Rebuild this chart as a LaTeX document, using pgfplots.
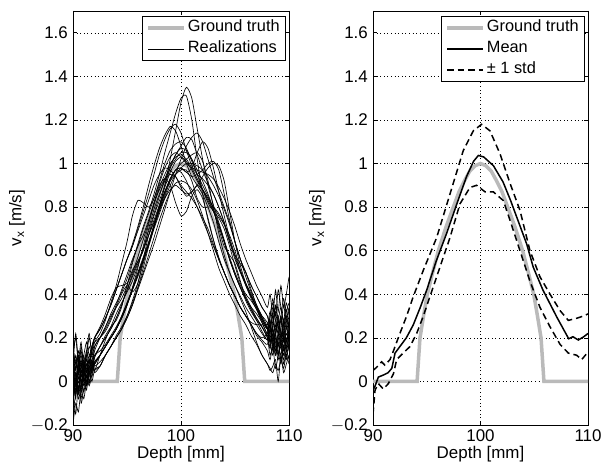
\documentclass[border=0pt]{standalone}
\usepackage{fontspec}
\setmainfont{Liberation Sans}
\usepackage{pgfplots}
\pgfplotsset{compat=1.18}
\definecolor{gt}{RGB}{186,186,186}
\newcommand{\fs}{\fontsize{17}{19}\selectfont}
\newcommand{\fl}{\fontsize{16.4}{18}\selectfont}
\pgfplotsset{
  myax/.style={
    scale only axis, height=414bp,
    xmin=90, xmax=110, ymin=-0.2, ymax=1.7,
    xtick={90,100,110}, ytick={-0.2,0,0.2,0.4,0.6,0.8,1,1.2,1.4,1.6},
    yticklabels={$-$0.2,0,0.2,0.4,0.6,0.8,1,1.2,1.4,1.6},
    /pgf/number format/assume math mode=true,
    tick label style={font=\fs},
    label style={font=\fs},
    axis line style={line width=0.8bp},
    tick style={black, line width=0.6bp},
    major tick length=4bp,
    tick align=inside,
    grid=major,
    major grid style={black, line width=0.5bp, dash pattern=on 0.6bp off 3bp},
    xticklabel style={anchor=base, yshift=-17bp},
    yticklabel style={anchor=east, inner sep=0pt, xshift=-5bp},
    xlabel={Depth [mm]},
    xlabel style={at={(axis description cs:0.5,0)}, anchor=base, yshift=-34bp},
    ylabel={v\textsubscript{x} [m/s]},
    legend cell align=left,
    legend image code/.code={\draw[##1] (0bp,0bp) -- (36bp,0bp);},
    legend style={at={(rel axis cs:1,1)}, anchor=north east, xshift=-3bp, yshift=-5bp,
      draw=black, line width=0.7bp, font=\fl, inner xsep=4bp, inner ysep=1bp,
      row sep=0bp, nodes={inner xsep=2bp, inner ysep=3bp, text height=11.5bp, text depth=3.5bp}},
  },
  rl/.style={black, line width=0.65bp, forget plot, smooth, tension=0.4},
}
\begin{document}
\begin{tikzpicture}[x=1bp,y=1bp]
\useasboundingbox (0,0) rectangle (602,464);
% ---------------- left panel ----------------
\begin{axis}[myax, at={(73bp,39bp)}, anchor=south west, width=216bp,
  ylabel style={at={(axis description cs:-0.259,0.5)}, anchor=center}]
\addplot[gt, line width=3.5bp] coordinates {(90,0)(94.1,0)(94.37,0.2)(94.7,0.3)(95.05,0.4)(95.5,0.49)(96.08,0.6)(96.8,0.71)(97.47,0.8)(98,0.87)(98.5,0.92)(99,0.965)(99.5,0.99)(100,1)(100.5,0.99)(101,0.965)(101.5,0.92)(102,0.87)(102.53,0.8)(103.2,0.71)(103.92,0.6)(104.5,0.49)(104.95,0.4)(105.3,0.3)(105.63,0.2)(105.9,0)(110,0)};
\addlegendentry{Ground truth}
\addplot[black, line width=0.65bp, smooth, tension=0.4] coordinates {(90,0.05)(90.25,-0.08)(90.5,0.10)(90.75,0.02)(91,0.08)(91.25,-0.02)(91.5,0.06)(91.75,0.12)(92,0.08)(92.5,.12)(93,.16)(93.5,.20)(94,.24)(94.5,.29)(95,.35)(95.5,.42)(96,.49)(96.5,.56)(97,.63)(97.5,.71)(98,.80)(98.5,.90)(99,1.02)(99.5,1.15)(100,1.28)(100.5,1.35)(101,1.30)(101.5,1.16)(102,1.02)(102.5,.90)(103,.81)(103.5,.73)(104,.65)(104.5,.57)(105,.50)(105.5,.44)(106,.39)(106.5,.34)(107,.29)(107.5,.25)(108,.20)(108.25,.15)(108.5,.22)(108.75,.12)(109,.20)(109.25,.28)(109.5,.18)(109.75,.25)(110,.20)};
\addlegendentry{Realizations}
\addplot[rl] coordinates {(90,-0.12)(90.25,0.02)(90.5,-0.05)(90.75,0.08)(91,0.0)(91.25,0.05)(91.5,0.10)(91.75,0.06)(92,0.16)(92.5,.20)(93,.25)(93.5,.31)(94,.36)(94.5,.41)(95,.47)(95.5,.55)(96,.63)(96.5,.71)(97,.78)(97.5,.86)(98,.95)(98.5,1.05)(99,1.14)(99.5,1.23)(100,1.30)(100.5,1.31)(101,1.20)(101.5,1.02)(102,.86)(102.5,.74)(103,.65)(103.5,.57)(104,.50)(104.5,.44)(105,.39)(105.5,.34)(106,.30)(106.5,.26)(107,.22)(107.5,.19)(108,.17)(108.25,.24)(108.5,.14)(108.75,.22)(109,.12)(109.25,.20)(109.5,.28)(109.75,.18)(110,.24)};
\addplot[rl] coordinates {(90,0.18)(90.25,0.05)(90.5,0.12)(90.75,-0.02)(91,0.06)(91.25,0.14)(91.5,0.08)(91.75,0.16)(92,0.20)(92.5,.24)(93,.29)(93.5,.35)(94,.42)(94.5,.49)(95,.56)(95.5,.62)(96,.70)(96.5,.78)(97,.86)(97.5,.95)(98,1.04)(98.5,1.11)(99,1.16)(99.5,1.18)(100,1.14)(100.5,1.06)(101,.99)(101.5,.95)(102,.93)(102.5,.90)(103,.86)(103.5,.80)(104,.73)(104.5,.65)(105,.57)(105.5,.50)(106,.44)(106.5,.39)(107,.34)(107.5,.29)(108,.24)(108.25,.18)(108.5,.24)(108.75,.14)(109,.18)(109.25,.10)(109.5,.16)(109.75,.12)(110,.18)};
\addplot[rl] coordinates {(90,-0.05)(90.25,-0.15)(90.5,-0.02)(90.75,-0.08)(91,0.02)(91.25,-0.04)(91.5,0.05)(91.75,0.02)(92,0.08)(92.5,.12)(93,.16)(93.5,.20)(94,.24)(94.5,.29)(95,.35)(95.5,.43)(96,.52)(96.5,.62)(97,.72)(97.5,.82)(98,.90)(98.5,.93)(99,.90)(99.5,.82)(100,.76)(100.5,.78)(101,.85)(101.5,.88)(102,.84)(102.5,.75)(103,.65)(103.5,.56)(104,.50)(104.5,.44)(105,.39)(105.5,.34)(106,.30)(106.5,.27)(107,.26)(107.5,.26)(108,.26)(108.25,.32)(108.5,.24)(108.75,.35)(109,.28)(109.25,.20)(109.5,.26)(109.75,.33)(110,.24)};
\addplot[rl] coordinates {(90,0.08)(90.25,0.0)(90.5,0.06)(90.75,0.12)(91,0.04)(91.25,0.08)(91.5,0.02)(91.75,0.10)(92,0.12)(92.5,.16)(93,.20)(93.5,.24)(94,.29)(94.5,.35)(95,.42)(95.5,.49)(96,.55)(96.5,.61)(97,.67)(97.5,.73)(98,.79)(98.5,.84)(99,.88)(99.5,.90)(100,.88)(100.5,.86)(101,.87)(101.5,.90)(102,.94)(102.5,.98)(103,1.00)(103.5,.99)(104,.92)(104.5,.78)(105,.64)(105.5,.53)(106,.45)(106.5,.39)(107,.34)(107.5,.29)(108,.24)(108.25,.18)(108.5,.24)(108.75,.16)(109,.10)(109.25,.18)(109.5,.12)(109.75,.20)(110,.14)};
\addplot[rl] coordinates {(90,-0.02)(90.25,0.10)(90.5,0.04)(90.75,0.16)(91,0.08)(91.25,0.12)(91.5,0.20)(91.75,0.14)(92,0.20)(92.5,.24)(93,.29)(93.5,.35)(94,.42)(94.5,.49)(95,.56)(95.5,.62)(96,.69)(96.5,.76)(97,.83)(97.5,.90)(98,.95)(98.5,.98)(99,.97)(99.5,.94)(100,.90)(100.5,.87)(101,.84)(101.5,.80)(102,.75)(102.5,.70)(103,.63)(103.5,.56)(104,.50)(104.5,.44)(105,.39)(105.5,.34)(106,.30)(106.5,.26)(107,.22)(107.5,.20)(108,.22)(108.25,.28)(108.5,.18)(108.75,.24)(109,.30)(109.25,.22)(109.5,.16)(109.75,.24)(110,.30)};
\addplot[rl] coordinates {(90,0.0)(90.25,0.06)(90.5,-0.04)(90.75,0.04)(91,0.10)(91.25,0.02)(91.5,0.08)(91.75,0.14)(92,0.20)(92.5,.25)(93,.31)(93.5,.38)(94,.43)(94.5,.44)(95,.45)(95.5,.50)(96,.57)(96.5,.65)(97,.73)(97.5,.81)(98,.89)(98.5,.95)(99,1.00)(99.5,1.03)(100,1.04)(100.5,1.02)(101,.98)(101.5,.93)(102,.88)(102.5,.83)(103,.78)(103.5,.72)(104,.64)(104.5,.56)(105,.49)(105.5,.43)(106,.38)(106.5,.33)(107,.28)(107.5,.23)(108,.19)(108.25,.24)(108.5,.30)(108.75,.22)(109,.16)(109.25,.25)(109.5,.35)(109.75,.26)(110,.18)};
\addplot[rl] coordinates {(90,0.12)(90.25,0.20)(90.5,0.08)(90.75,0.14)(91,0.06)(91.25,0.10)(91.5,0.04)(91.75,0.08)(92,0.06)(92.5,.07)(93,.12)(93.5,.16)(94,.20)(94.5,.24)(95,.29)(95.5,.35)(96,.42)(96.5,.49)(97,.56)(97.5,.63)(98,.71)(98.5,.79)(99,.87)(99.5,.95)(100,1.02)(100.5,1.08)(101,1.12)(101.5,1.14)(102,1.10)(102.5,1.02)(103,.94)(103.5,.87)(104,.80)(104.5,.73)(105,.64)(105.5,.56)(106,.50)(106.5,.44)(107,.39)(107.5,.34)(108,.30)(108.25,.24)(108.5,.30)(108.75,.22)(109,.28)(109.25,.34)(109.5,.26)(109.75,.30)(110,.24)};
\addplot[rl] coordinates {(90,-0.08)(90.25,-0.02)(90.5,0.06)(90.75,-0.05)(91,0.03)(91.25,0.08)(91.5,0.0)(91.75,0.05)(92,0.09)(92.5,.12)(93,.16)(93.5,.20)(94,.24)(94.5,.29)(95,.35)(95.5,.42)(96,.49)(96.5,.56)(97,.63)(97.5,.71)(98,.78)(98.5,.85)(99,.92)(99.5,.97)(100,.98)(100.5,.96)(101,.98)(101.5,1.05)(102,1.10)(102.5,1.07)(103,.98)(103.5,.87)(104,.76)(104.5,.66)(105,.58)(105.5,.51)(106,.45)(106.5,.39)(107,.34)(107.5,.29)(108,.24)(108.25,.18)(108.5,.12)(108.75,.20)(109,.14)(109.25,.08)(109.5,.16)(109.75,.10)(110,.18)};
\addplot[rl] coordinates {(90,0.02)(90.25,-0.06)(90.5,0.02)(90.75,-0.03)(91,0.05)(91.25,0.0)(91.5,0.07)(91.75,0.04)(92,0.11)(92.5,.16)(93,.21)(93.5,.25)(94,.28)(94.5,.34)(95,.44)(95.5,.51)(96,.55)(96.5,.60)(97,.70)(97.5,.79)(98,.86)(98.5,.92)(99,.98)(99.5,1.02)(100,1.05)(100.5,1.05)(101,1.02)(101.5,.97)(102,.92)(102.5,.86)(103,.79)(103.5,.70)(104,.62)(104.5,.58)(105,.54)(105.5,.46)(106,.38)(106.5,.34)(107,.31)(107.5,.27)(108,.21)(108.25,.16)(108.5,.24)(108.75,.18)(109,.12)(109.25,.20)(109.5,.26)(109.75,.15)(110,.22)};
\addplot[rl] coordinates {(90,0.15)(90.25,0.08)(90.5,0.14)(90.75,0.06)(91,0.12)(91.25,0.18)(91.5,0.12)(91.75,0.16)(92,0.18)(92.5,.20)(93,.24)(93.5,.29)(94,.35)(94.5,.42)(95,.49)(95.5,.56)(96,.62)(96.5,.70)(97,.77)(97.5,.84)(98,.91)(98.5,.98)(99,1.03)(99.5,1.05)(100,1.03)(100.5,1.00)(101,.98)(101.5,.97)(102,.96)(102.5,.95)(103,.93)(103.5,.89)(104,.84)(104.5,.78)(105,.71)(105.5,.63)(106,.56)(106.5,.50)(107,.44)(107.5,.39)(108,.34)(108.25,.40)(108.5,.30)(108.75,.42)(109,.32)(109.25,.44)(109.5,.34)(109.75,.40)(110,.48)};
\addplot[rl] coordinates {(90,-0.2)(90.25,-0.10)(90.5,-0.14)(90.75,-0.04)(91,-0.08)(91.25,0.0)(91.5,0.04)(91.75,0.0)(92,0.05)(92.5,.07)(93,.12)(93.5,.16)(94,.20)(94.5,.24)(95,.30)(95.5,.37)(96,.45)(96.5,.54)(97,.63)(97.5,.72)(98,.81)(98.5,.89)(99,.96)(99.5,1.01)(100,1.03)(100.5,1.01)(101,.97)(101.5,.92)(102,.88)(102.5,.84)(103,.80)(103.5,.76)(104,.72)(104.5,.67)(105,.60)(105.5,.51)(106,.44)(106.5,.38)(107,.33)(107.5,.28)(108,.24)(108.25,.30)(108.5,.36)(108.75,.28)(109,.22)(109.25,.30)(109.5,.38)(109.75,.30)(110,.26)};
\addplot[rl] coordinates {(90,0.06)(90.25,-0.02)(90.5,0.08)(90.75,0.0)(91,0.06)(91.25,-0.02)(91.5,0.05)(91.75,0.09)(92,0.07)(92.5,.09)(93,.12)(93.5,.16)(94,.21)(94.5,.25)(95,.30)(95.5,.36)(96,.43)(96.5,.50)(97,.58)(97.5,.66)(98,.74)(98.5,.81)(99,.87)(99.5,.91)(100,.92)(100.5,.91)(101,.88)(101.5,.83)(102,.76)(102.5,.68)(103,.60)(103.5,.52)(104,.46)(104.5,.40)(105,.35)(105.5,.30)(106,.26)(106.5,.21)(107,.17)(107.5,.12)(108,.08)(108.25,.05)(108.5,.07)(108.75,.10)(109,.0)(109.25,.12)(109.5,.04)(109.75,.08)(110,.12)};
\addplot[rl] coordinates {(90,-0.14)(90.25,-0.06)(90.5,0.0)(90.75,-0.04)(91,0.04)(91.25,-0.02)(91.5,0.06)(91.75,0.10)(92,0.05)(92.5,.12)(93,.19)(93.5,.25)(94,.31)(94.5,.36)(95,.41)(95.5,.46)(96,.53)(96.5,.61)(97,.69)(97.5,.77)(98,.85)(98.5,.93)(99,.99)(99.5,1.04)(100,1.07)(100.5,1.06)(101,1.02)(101.5,.95)(102,.88)(102.5,.82)(103,.78)(103.5,.75)(104,.70)(104.5,.62)(105,.53)(105.5,.45)(106,.40)(106.5,.37)(107,.33)(107.5,.27)(108,.22)(108.25,.26)(108.5,.18)(108.75,.12)(109,.20)(109.25,.15)(109.5,.22)(109.75,.28)(110,.20)};
\addplot[rl] coordinates {(90,0.10)(90.25,0.02)(90.5,-0.06)(90.75,0.05)(91,-0.02)(91.25,0.06)(91.5,0.12)(91.75,0.08)(92,0.12)(92.5,.14)(93,.17)(93.5,.21)(94,.25)(94.5,.30)(95,.36)(95.5,.43)(96,.50)(96.5,.57)(97,.64)(97.5,.72)(98,.80)(98.5,.87)(99,.92)(99.5,.95)(100,.97)(100.5,.97)(101,.92)(101.5,.84)(102,.80)(102.5,.80)(103,.80)(103.5,.77)(104,.72)(104.5,.64)(105,.58)(105.5,.54)(106,.50)(106.5,.42)(107,.35)(107.5,.30)(108,.27)(108.25,.20)(108.5,.28)(108.75,.34)(109,.26)(109.25,.18)(109.5,.24)(109.75,.32)(110,.36)};
\addplot[rl] coordinates {(90,0.0)(90.25,0.12)(90.5,0.04)(90.75,0.10)(91,0.02)(91.25,0.10)(91.5,0.16)(91.75,0.12)(92,0.18)(92.5,.22)(93,.28)(93.5,.36)(94,.44)(94.5,.54)(95,.64)(95.5,.76)(96,.83)(96.5,.82)(97,.80)(97.5,.84)(98,.92)(98.5,1.00)(99,1.06)(99.5,1.09)(100,1.10)(100.5,1.07)(101,1.01)(101.5,.95)(102,.90)(102.5,.85)(103,.79)(103.5,.72)(104,.64)(104.5,.56)(105,.49)(105.5,.43)(106,.37)(106.5,.32)(107,.28)(107.5,.25)(108,.21)(108.25,.26)(108.5,.19)(108.75,.14)(109,.22)(109.25,.16)(109.5,.10)(109.75,.18)(110,.24)};
\addplot[rl] coordinates {(90,0.04)(90.25,-0.04)(90.5,0.03)(90.75,0.09)(91,0.0)(91.25,0.05)(91.5,0.0)(91.75,0.06)(92,0.09)(92.5,.12)(93,.16)(93.5,.20)(94,.24)(94.5,.29)(95,.35)(95.5,.42)(96,.49)(96.5,.56)(97,.62)(97.5,.70)(98,.77)(98.5,.84)(99,.90)(99.5,.95)(100,.98)(100.5,1.00)(101,1.00)(101.5,.99)(102,.97)(102.5,.94)(103,.90)(103.5,.85)(104,.79)(104.5,.72)(105,.64)(105.5,.56)(106,.50)(106.5,.44)(107,.39)(107.5,.34)(108,.30)(108.25,.26)(108.5,.34)(108.75,.28)(109,.22)(109.25,.30)(109.5,.20)(109.75,.28)(110,.34)};
\addplot[rl] coordinates {(90,-0.06)(90.25,0.04)(90.5,-0.03)(90.75,0.06)(91,0.12)(91.25,0.04)(91.5,0.09)(91.75,0.16)(92,0.20)(92.5,.24)(93,.29)(93.5,.35)(94,.42)(94.5,.49)(95,.56)(95.5,.63)(96,.71)(96.5,.80)(97,.90)(97.5,.99)(98,1.07)(98.5,1.13)(99,1.17)(99.5,1.15)(100,1.08)(100.5,1.00)(101,.94)(101.5,.90)(102,.86)(102.5,.80)(103,.73)(103.5,.64)(104,.56)(104.5,.50)(105,.44)(105.5,.39)(106,.34)(106.5,.30)(107,.26)(107.5,.22)(108,.19)(108.25,.24)(108.5,.16)(108.75,.22)(109,.28)(109.25,.20)(109.5,.14)(109.75,.22)(110,.18)};
\addplot[rl] coordinates {(90,0.16)(90.25,0.06)(90.5,0.12)(90.75,0.02)(91,0.09)(91.25,0.04)(91.5,0.10)(91.75,0.05)(92,0.11)(92.5,.16)(93,.20)(93.5,.24)(94,.29)(94.5,.35)(95,.42)(95.5,.48)(96,.54)(96.5,.60)(97,.67)(97.5,.74)(98,.81)(98.5,.87)(99,.93)(99.5,.97)(100,1.00)(100.5,1.02)(101,1.04)(101.5,1.05)(102,1.01)(102.5,.92)(103,.80)(103.5,.68)(104,.58)(104.5,.50)(105,.44)(105.5,.38)(106,.32)(106.5,.25)(107,.18)(107.5,.12)(108,.08)(108.25,.06)(108.5,.04)(108.75,.08)(109,.05)(109.25,.10)(109.5,.06)(109.75,.12)(110,.08)};
\addplot[rl] coordinates {(90,-0.10)(90.25,0.0)(90.5,0.08)(90.75,0.01)(91,-0.05)(91.25,0.03)(91.5,-0.01)(91.75,0.07)(92,0.14)(92.5,.20)(93,.25)(93.5,.30)(94,.34)(94.5,.38)(95,.44)(95.5,.54)(96,.62)(96.5,.67)(97,.74)(97.5,.82)(98,.88)(98.5,.93)(99,.95)(99.5,.94)(100,.89)(100.5,.85)(101,.87)(101.5,.90)(102,.88)(102.5,.84)(103,.78)(103.5,.71)(104,.64)(104.5,.56)(105,.49)(105.5,.43)(106,.38)(106.5,.33)(107,.29)(107.5,.25)(108,.20)(108.25,.12)(108.5,.18)(108.75,.26)(109,.18)(109.25,.12)(109.5,.20)(109.75,.14)(110,.20)};
\addplot[rl] coordinates {(90,0.08)(90.25,0.22)(90.5,0.10)(90.75,0.18)(91,0.06)(91.25,0.14)(91.5,0.22)(91.75,0.12)(92,0.16)(92.5,.20)(93,.23)(93.5,.28)(94,.34)(94.5,.40)(95,.44)(95.5,.41)(96,.45)(96.5,.56)(97,.67)(97.5,.76)(98,.83)(98.5,.90)(99,.98)(99.5,1.04)(100,1.08)(100.5,1.12)(101,1.11)(101.5,1.04)(102,.97)(102.5,.91)(103,.86)(103.5,.80)(104,.73)(104.5,.64)(105,.56)(105.5,.50)(106,.45)(106.5,.40)(107,.34)(107.5,.28)(108,.24)(108.25,.30)(108.5,.38)(108.75,.30)(109,.42)(109.25,.34)(109.5,.28)(109.75,.36)(110,.30)};
\addplot[rl] coordinates {(90,-0.04)(90.25,0.04)(90.5,-0.08)(90.75,-0.02)(91,0.05)(91.25,0.12)(91.5,0.03)(91.75,0.08)(92,0.04)(92.5,.07)(93,.12)(93.5,.16)(94,.20)(94.5,.24)(95,.29)(95.5,.35)(96,.43)(96.5,.52)(97,.62)(97.5,.71)(98,.79)(98.5,.86)(99,.93)(99.5,.97)(100,.96)(100.5,.92)(101,.86)(101.5,.80)(102,.74)(102.5,.68)(103,.62)(103.5,.56)(104,.50)(104.5,.44)(105,.39)(105.5,.34)(106,.30)(106.5,.26)(107,.21)(107.5,.18)(108,.14)(108.25,.10)(108.5,.16)(108.75,.06)(109,.12)(109.25,.18)(109.5,.08)(109.75,.14)(110,.10)};
\addplot[rl] coordinates {(90,0.03)(90.25,-0.05)(90.5,0.05)(90.75,-0.1)(91,-0.03)(91.25,0.02)(91.5,-0.02)(91.75,0.03)(92,0.08)(92.5,.12)(93,.16)(93.5,.20)(94,.24)(94.5,.30)(95,.36)(95.5,.42)(96,.48)(96.5,.55)(97,.63)(97.5,.71)(98,.79)(98.5,.87)(99,.93)(99.5,.97)(100,.98)(100.5,.96)(101,.94)(101.5,.95)(102,.97)(102.5,1.00)(103,1.01)(103.5,.97)(104,.86)(104.5,.74)(105,.64)(105.5,.56)(106,.48)(106.5,.41)(107,.35)(107.5,.30)(108,.25)(108.25,.18)(108.5,.26)(108.75,.32)(109,.24)(109.25,.30)(109.5,.22)(109.75,.16)(110,.28)};
\end{axis}
% ---------------- right panel ----------------
\begin{axis}[myax, at={(373bp,39bp)}, anchor=south west, width=215bp,
  ylabel style={at={(axis description cs:-0.26,0.5)}, anchor=center}]
\addplot[gt, line width=3.5bp] coordinates {(90,0)(94.1,0)(94.37,0.2)(94.7,0.3)(95.05,0.4)(95.5,0.49)(96.08,0.6)(96.8,0.71)(97.47,0.8)(98,0.87)(98.5,0.92)(99,0.965)(99.5,0.99)(100,1)(100.5,0.99)(101,0.965)(101.5,0.92)(102,0.87)(102.53,0.8)(103.2,0.71)(103.92,0.6)(104.5,0.49)(104.95,0.4)(105.3,0.3)(105.63,0.2)(105.9,0)(110,0)};
\addlegendentry{Ground truth}
\addplot[black, line width=1.5bp] coordinates {(90,-0.04)(90.2,-0.02)(90.5,0.02)(91,0.03)(91.4,0.04)(91.75,0.06)(92.05,0.13)(92.5,0.16)(93.1,0.2)(93.75,0.26)(94.4,0.34)(95,0.42)(95.9,0.555)(96.85,0.68)(97.8,0.815)(98.7,0.94)(99.35,1.01)(99.8,1.037)(100.3,1.03)(101.2,0.99)(102.1,0.915)(102.8,0.83)(103.4,0.75)(104.3,0.63)(104.9,0.525)(105.8,0.42)(107.1,0.295)(108.2,0.196)(108.6,0.205)(109.1,0.19)(109.6,0.205)(110,0.22)};
\addlegendentry{Mean}
\addplot[black, line width=1.5bp, dash pattern=on 6.5bp off 4bp] coordinates {(90,0.05)(90.34,0.065)(90.8,0.09)(91.1,0.075)(91.58,0.1)(91.9,0.14)(92.5,0.22)(93.13,0.3)(93.75,0.39)(94.68,0.51)(95.92,0.66)(97.16,0.86)(98.4,1.06)(99.33,1.15)(100.1,1.18)(100.88,1.15)(101.81,1.045)(102.74,0.91)(103.67,0.785)(104.6,0.6)(105.53,0.48)(106.47,0.40)(107.4,0.325)(108.17,0.28)(108.95,0.29)(109.57,0.30)(110,0.31)};
\addlegendentry{± 1 std}
\addplot[black, line width=1.5bp, dash pattern=on 6.5bp off 4bp, forget plot] coordinates {(90,-0.15)(90.19,-0.04)(90.5,-0.01)(90.96,-0.035)(91.43,-0.01)(91.9,0.035)(92.2,0.1)(92.8,0.13)(93.44,0.16)(94.06,0.22)(94.68,0.3)(95.92,0.48)(97.16,0.66)(98.09,0.815)(99.02,0.89)(99.64,0.90)(100.42,0.87)(101.19,0.87)(102.12,0.83)(102.74,0.74)(103.67,0.60)(104.6,0.46)(105.53,0.34)(106.47,0.25)(107.4,0.17)(108.17,0.13)(108.95,0.12)(109.41,0.10)(110,0.135)};
\end{axis}
\end{tikzpicture}
\end{document}
